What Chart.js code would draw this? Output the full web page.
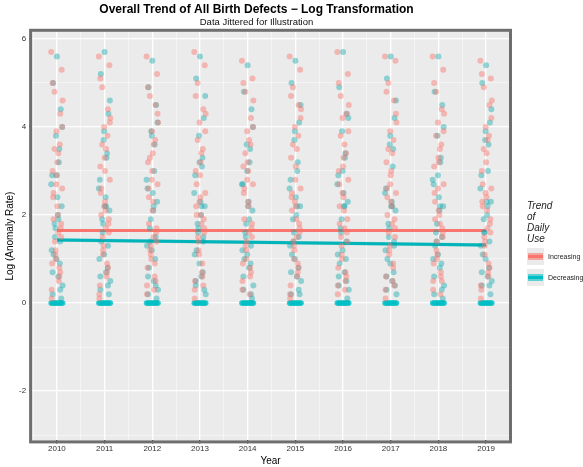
<!DOCTYPE html>
<html><head><meta charset="utf-8">
<script src="https://cdn.jsdelivr.net/npm/chart.js@4/dist/chart.umd.min.js"></script>
<style>
body{margin:0;background:#fff;font-family:"Liberation Sans",Arial,sans-serif}
#lg{position:absolute;left:527px;top:200px;font-size:10px;color:#222}
.it{display:flex;align-items:center;margin-top:4px;font-size:7px}
.sw{width:17px;height:17px;background:#ebebeb;position:relative;margin-right:4px}
.sw i{position:absolute;left:1px;right:1px;top:6px;height:5px}
</style></head><body>
<canvas id="c" width="583" height="467" style="position:absolute;left:0;top:0"></canvas>
<div id="lg"><i>Trend<br>of<br>Daily<br>Use</i>
<div class="it"><div class="sw"><i style="background:rgba(248,118,109,0.6);height:7px;top:5px"></i><i style="background:#F8766D;top:7px;height:3px"></i></div>Increasing</div>
<div class="it"><div class="sw"><i style="background:rgba(0,191,196,0.6);height:7px;top:5px"></i><i style="background:#00BFC4;top:7px;height:3px"></i></div>Decreasing</div>
</div>
<script>
const years=[2010,2011,2012,2013,2014,2015,2016,2017,2018,2019];
const jitter=[-0.11,0.05,-0.03,0.09,-0.07,0.01,0.11,-0.09,0.03,-0.01,0.07,-0.05,0.1,-0.12,0.04,-0.02,0.08,-0.08,0.0,0.06,-0.04,0.02,-0.1,0.12];
const incVals=[
[0.3,0.8,1.2,1.5,1.9,2.2,2.6,3.0,3.4,3.9,4.3,4.8,5.3,5.7,0.5,1.0,1.7,2.4,2.9,3.6,1.4,2.0,0.9,4.6,0.1,0.6,1.1,1.8,2.5,3.2,4.0,5.0,1.6,2.7,0.7,3.5],
[0.2,0.7,1.1,1.6,2.0,2.3,2.8,3.1,3.5,4.0,4.4,4.9,5.4,5.6,0.6,1.3,1.8,2.5,3.3,3.8,1.5,2.1,0.4,4.2,0.1,0.9,1.2,1.9,2.6,3.0,4.1,5.1,1.7,2.2,0.8,3.6],
[0.4,0.9,1.3,1.4,1.8,2.1,2.7,3.2,3.6,3.9,4.5,4.7,5.2,5.6,0.3,1.0,1.6,2.6,3.0,3.7,1.2,2.3,0.8,4.1,0.2,0.6,1.1,1.7,2.4,3.4,4.3,4.9,1.5,2.8,0.5,3.3],
[0.3,0.6,1.2,1.7,2.0,2.4,2.5,3.0,3.4,4.1,4.4,5.0,5.4,5.7,0.7,1.1,1.9,2.2,2.9,3.5,1.5,2.0,0.5,4.3,0.1,0.9,1.4,1.6,2.7,3.2,3.9,4.7,1.8,2.3,0.4,3.7],
[0.5,0.8,1.0,1.5,1.9,2.3,2.7,3.1,3.7,3.9,4.2,4.8,5.1,5.5,0.2,1.4,1.7,2.5,3.2,3.6,1.3,2.2,0.9,4.6,0.3,0.6,1.2,1.8,2.6,3.0,4.0,5.0,1.6,2.8,0.7,3.4],
[0.2,0.9,1.3,1.6,2.1,2.2,2.6,3.3,3.5,4.0,4.5,4.9,5.3,5.6,0.6,1.2,1.8,2.4,2.8,3.8,1.4,1.9,0.4,4.4,0.1,0.7,1.0,1.7,2.5,3.1,4.2,4.7,1.5,2.3,0.8,3.6],
[0.4,0.7,1.1,1.4,1.8,2.4,2.8,3.0,3.6,4.2,4.3,4.7,5.2,5.7,0.3,1.0,1.6,2.7,3.1,3.4,1.5,2.1,0.8,4.5,0.2,0.5,1.3,1.9,2.2,3.3,3.9,5.0,1.7,2.5,0.6,3.8],
[0.3,0.8,1.2,1.7,2.0,2.3,2.5,3.2,3.4,3.9,4.6,5.0,5.5,5.6,0.5,1.3,1.9,2.6,2.9,3.7,1.6,2.2,0.6,4.1,0.1,0.9,1.1,1.5,2.4,3.0,4.3,4.8,1.8,2.7,0.4,3.5],
[0.5,0.6,1.0,1.5,1.9,2.1,2.7,3.1,3.5,4.1,4.4,4.8,5.3,5.6,0.2,1.1,1.7,2.5,3.3,3.6,1.2,2.0,0.9,4.3,0.3,0.7,1.4,1.6,2.3,3.2,3.9,5.0,1.8,2.6,0.5,3.8],
[0.4,0.9,1.3,1.6,2.2,2.4,2.6,3.0,3.7,4.0,4.5,4.9,5.1,5.5,0.7,1.4,1.8,2.3,3.2,3.8,1.5,2.1,0.3,4.6,0.1,0.6,1.1,1.9,2.7,3.4,4.2,5.2,1.7,2.5,0.8,3.5]];
const decVals=[
[0.2,0.6,1.0,1.4,1.8,2.2,2.7,3.2,3.8,4.4,5.0,5.6,0.9,1.5,2.0,2.9,0.4,1.2,3.5,1.7,0.1,1.1,2.4,4.0,0.7,1.9,2.9,0.3],
[0.3,0.7,1.1,1.3,1.9,2.1,2.6,3.3,3.7,4.3,5.2,5.7,0.8,1.6,2.4,2.8,0.5,1.0,3.4,1.8,0.2,1.4,2.2,4.6,0.6,2.2,3.9,0.4],
[0.2,0.5,1.2,1.5,1.7,2.3,2.8,3.0,3.9,4.5,4.9,5.5,1.0,1.4,2.1,2.6,0.3,1.3,3.6,1.9,0.1,0.8,2.5,4.1,0.6,2.2,3.8,0.4],
[0.4,0.6,0.9,1.4,1.8,2.2,2.5,3.1,3.8,4.2,5.1,5.6,0.7,1.6,2.0,2.9,0.2,1.1,3.3,1.7,0.3,1.2,2.3,4.7,0.5,2.2,3.2,1.5],
[0.3,0.8,1.1,1.3,1.6,2.1,2.7,3.2,3.6,4.4,4.8,5.4,0.9,1.5,2.3,2.7,0.4,1.2,3.5,1.8,0.1,1.0,2.2,4.0,0.6,1.9,3.0,0.2],
[0.2,0.6,1.0,1.5,1.9,2.2,2.6,3.0,3.7,4.1,5.0,5.5,0.8,1.4,2.0,2.8,0.5,1.3,3.2,1.6,0.2,1.1,2.4,4.5,0.7,2.2,3.9,0.3],
[0.4,0.7,1.2,1.4,1.7,2.3,2.7,3.3,3.9,4.3,4.9,5.7,1.0,1.6,2.2,2.9,0.3,1.1,3.4,1.9,0.1,0.9,2.5,4.2,0.6,2.2,3.0,0.5],
[0.3,0.5,0.9,1.3,1.8,2.1,2.5,3.1,3.6,4.2,5.1,5.6,0.7,1.5,2.3,2.6,0.2,1.2,3.5,1.7,0.4,1.0,2.2,4.6,0.6,2.2,3.8,1.4],
[0.2,0.8,1.1,1.5,1.6,2.2,2.8,3.2,3.8,4.5,4.8,5.6,0.9,1.4,2.1,2.7,0.4,1.0,3.3,1.8,0.1,1.3,2.4,4.0,0.6,2.2,2.9,0.3],
[0.4,0.6,1.0,1.4,1.9,2.3,2.6,3.0,3.7,4.1,5.0,5.4,0.8,1.6,2.0,2.9,0.5,1.3,3.6,1.6,0.2,1.1,2.3,4.4,0.7,2.2,3.9,0.4]];
const zeroJitter=[-0.12,-0.09,-0.06,-0.03,0,0.03,0.06,0.09,0.12];
const incFit=[1.65,1.65];
const decFit=[1.43,1.32];
const decLo=[1.39,1.28];
const decHi=[1.47,1.36];

const inc=[],dec=[],zer=[];
years.forEach((y,k)=>{
  incVals[k].forEach((v,i)=>inc.push({x:y+jitter[i%jitter.length],y:v}));
  decVals[k].forEach((v,i)=>dec.push({x:y+jitter[(i+7)%jitter.length],y:v}));
  zeroJitter.forEach(j=>zer.push({x:y+j,y:0}));
});
const ends=[years[0],years[years.length-1]];
const line=a=>ends.map((x,i)=>({x,y:a[i]}));
new Chart(document.getElementById('c'),{
 type:'scatter',
 data:{datasets:[
  {data:inc,backgroundColor:'rgba(248,118,109,0.45)',pointRadius:3,borderWidth:0},
  {data:dec,backgroundColor:'rgba(0,165,170,0.4)',pointRadius:3,borderWidth:0},
  {data:zer,backgroundColor:'rgba(0,191,196,0.8)',pointRadius:2.8,borderWidth:0},
  {type:'line',data:line(decLo),borderWidth:0,pointRadius:0},
  {type:'line',data:line(decHi),borderWidth:0,pointRadius:0,fill:'-1',backgroundColor:'rgba(0,160,165,0.35)'},
  {type:'line',data:line(decFit),borderColor:'#00BFC4',borderWidth:3,pointRadius:0},
  {type:'line',data:line(incFit),borderColor:'#F8766D',borderWidth:3,pointRadius:0}
 ]},
 options:{responsive:false,animation:false,
  layout:{padding:{left:4,right:74,top:2,bottom:0}},
  plugins:{legend:{display:false},tooltip:{enabled:false},
   title:{display:true,text:'Overall Trend of All Birth Defects − Log Transformation',font:{size:12,weight:'bold',family:'Liberation Sans'},color:'#000',padding:{top:0,bottom:0}},
   subtitle:{display:true,text:'Data Jittered for Illustration',font:{size:9.5,family:'Liberation Sans'},color:'#111',padding:{bottom:4}}},
  scales:{
   x:{type:'linear',min:2009.48,max:2019.48,
    afterBuildTicks:a=>{const t=[];for(let v=2009.5;v<=2019.5;v+=0.5)t.push({value:v});a.ticks=t;},
    ticks:{autoSkip:false,maxRotation:0,padding:1,font:{size:8},color:'#333',callback:v=>Number.isInteger(v)?String(v):''},
    grid:{color:'#fff',lineWidth:c=>Number.isInteger(c.tick.value)?1.3:0.5,drawTicks:true,tickColor:c=>Number.isInteger(c.tick.value)?'#333':'rgba(0,0,0,0)',tickLength:3},
    border:{display:false},
    title:{display:true,text:'Year',font:{size:10},color:'#000',padding:{top:0,bottom:0}}},
   y:{min:-3.12,max:6.16,
    afterBuildTicks:a=>{a.ticks=[-3,-2,-1,0,1,2,3,4,5,6].map(v=>({value:v}));},
    ticks:{font:{size:8},color:'#333',callback:v=>v%2===0?String(v):''},
    grid:{color:'#fff',lineWidth:c=>c.tick&&c.tick.value%2===0?1.3:0.5,tickColor:c=>c.tick&&c.tick.value%2===0?'#333':'rgba(0,0,0,0)',tickLength:3},
    border:{display:false},
    title:{display:true,text:'Log (Anomaly Rate)',font:{size:10},color:'#000',padding:0}}
  }},
 plugins:[{id:'bg',beforeDraw(ch){const a=ch.chartArea,g=ch.ctx;g.save();g.fillStyle='#ebebeb';g.fillRect(a.left,a.top,a.width,a.height);g.restore();},
  afterDraw(ch){const a=ch.chartArea,g=ch.ctx;g.save();g.strokeStyle='#6e6e6e';g.lineWidth=3;g.strokeRect(a.left-1.5,a.top-1.5,a.width+3,a.height+3);g.restore();}}]
});
</script></body></html>
